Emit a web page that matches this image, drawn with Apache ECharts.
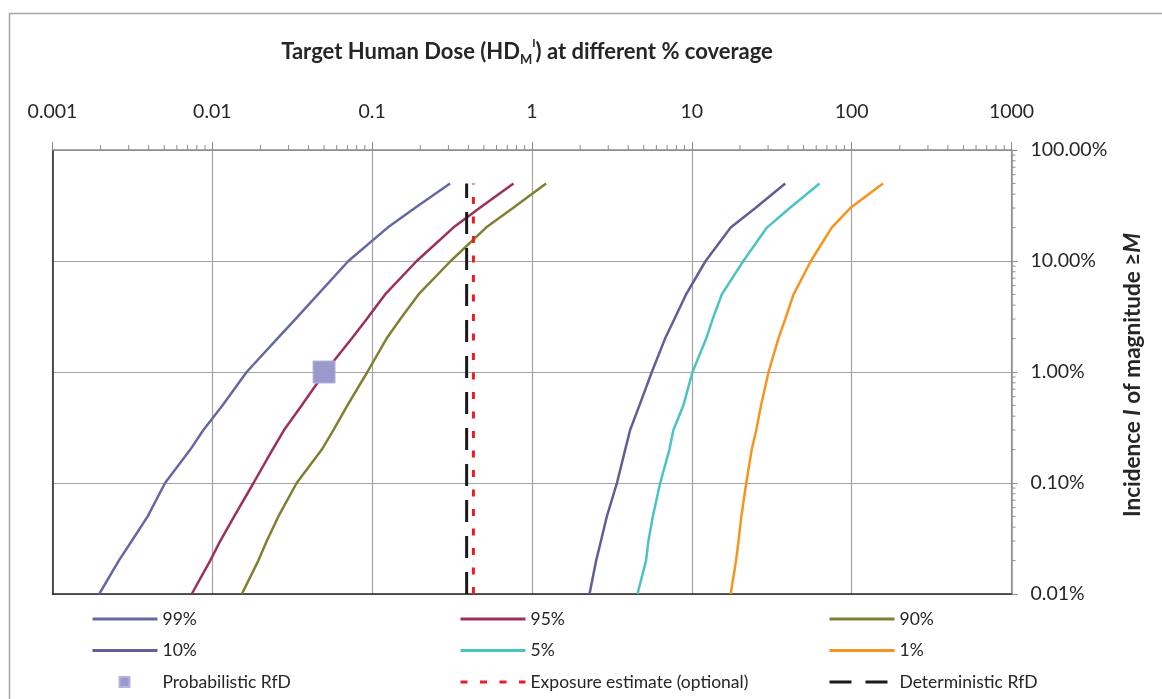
<!DOCTYPE html>
<html>
<head>
<meta charset="utf-8">
<title>Target Human Dose at different % coverage</title>
<script src="https://cdn.jsdelivr.net/npm/echarts@6/dist/echarts.min.js"></script>
<style>
  html, body { margin: 0; padding: 0; background: #ffffff; }
  #chart { width: 1162px; height: 699px; }
</style>
</head>
<body>
<div id="chart"></div>
<script>
// Incidence levels (%) shared by every coverage curve, bottom to top
const incidence = [0.01, 0.02, 0.03, 0.05, 0.1, 0.2, 0.3, 0.5, 1, 2, 3, 5, 10, 20, 30, 50];

// Target human dose (x) reached by each coverage curve at the incidence levels above
const dose99 = [0.00196, 0.0026, 0.00313, 0.00394, 0.00506, 0.00728, 0.00879, 0.01156, 0.0164, 0.0255, 0.0331, 0.0458, 0.071, 0.125, 0.185, 0.307];
const dose95 = [0.00743, 0.0097, 0.0112, 0.0137, 0.0181, 0.0238, 0.0281, 0.0362, 0.0507, 0.0745, 0.0925, 0.1205, 0.19, 0.322, 0.47, 0.766];
const dose90 = [0.0153, 0.0194, 0.0219, 0.0259, 0.0337, 0.0484, 0.0572, 0.070, 0.0933, 0.123, 0.15, 0.195, 0.31, 0.516, 0.76, 1.225];
const dose10 = [2.29, 2.52, 2.70, 2.94, 3.40, 3.83, 4.11, 4.70, 5.62, 6.8, 7.78, 9.2, 12.2, 17.5, 25, 38.4];
const dose5  = [4.57, 5.17, 5.35, 5.70, 6.34, 7.24, 7.67, 8.85, 10.1, 12.3, 13.5, 15.4, 21.0, 29.5, 41, 63];
const dose1  = [17.5, 18.9, 19.6, 20.4, 21.9, 23.7, 25.3, 27.1, 30.2, 34.8, 38.4, 43.3, 55.6, 75, 98, 157];

// Reference points and lines
const probabilisticRfD = [0.05, 1];       // [dose, incidence %]
const exposureEstimate = 0.43;            // dose
const deterministicRfD = 0.39;            // dose
const refLineSpan = [0.01, 50];           // incidence range covered by the vertical lines

// Axis ranges
const doseRange = [0.001, 1000];
const incidenceRange = [0.01, 100];

const FONT = 'Lato, "Open Sans", sans-serif';
const TEXT = '#262626';

const pair = (xs) => xs.map((x, i) => [x, incidence[i]]);
const vline = (x) => refLineSpan.map((y) => [x, y]);

// Minor tick values (2..9 in every decade) for the log axes
function decadeMinors(fromExp, toExp) {
  const out = [];
  for (let e = fromExp; e < toExp; e++) {
    for (let m = 2; m <= 9; m++) out.push(+(m * Math.pow(10, e)).toPrecision(6));
  }
  return out;
}
const doseMinors = decadeMinors(-3, 3);
const incidenceMinors = decadeMinors(-2, 2);

const curveStyle = (color) => ({ color: color, width: 2.5 });

// Legend columns: line samples only (the point marker is hidden), text right of the sample
const legendText = { fontFamily: FONT, fontSize: 17.5, color: TEXT, lineHeight: 20 };
const legendBase = {
  orient: 'vertical',
  top: 609,
  padding: 0,
  itemWidth: 65,
  itemHeight: 10,
  itemGap: 11.5,
  selectedMode: false,
  itemStyle: { opacity: 0 },
  lineStyle: { width: 3 },
  textStyle: legendText
};

const chart = echarts.init(document.getElementById('chart'), null, { renderer: 'canvas' });

chart.setOption({
  animation: false,
  backgroundColor: '#ffffff',
  title: {
    left: 527,
    top: 38,
    padding: 0,
    textAlign: 'center',
    text: '{m|Target Human Dose (HD}{sub|M}{sup|I}{m|) at different % coverage}',
    textStyle: {
      rich: {
        m:   { fontFamily: FONT, fontSize: 22, fontWeight: 'bold', color: TEXT, lineHeight: 28 },
        sub: { fontFamily: FONT, fontSize: 13, fontWeight: 'bold', color: TEXT, lineHeight: 14, verticalAlign: 'bottom' },
        sup: { fontFamily: FONT, fontSize: 11, fontWeight: 'bold', color: TEXT, lineHeight: 12, verticalAlign: 'top' }
      }
    }
  },
  graphic: [
    {
      type: 'rect',
      z: -10,
      silent: true,
      shape: { x: 9.5, y: 13.5, width: 1200, height: 800 },
      style: { fill: 'none', stroke: '#a6a6a6', lineWidth: 1.5 }
    },
    {
      type: 'text',
      x: 1133,
      y: 375,
      rotation: Math.PI / 2,
      silent: true,
      style: {
        text: '{b|Incidence }{i|I}{b| of magnitude \u2265}{i|M}',
        align: 'center',
        verticalAlign: 'middle',
        rich: {
          b: { fontFamily: FONT, fontSize: 22.5, fontWeight: 'bold', fill: TEXT },
          i: { fontFamily: FONT, fontSize: 22.5, fontWeight: 'bold', fontStyle: 'italic', fill: TEXT }
        }
      }
    }
  ],
  legend: [
    Object.assign({}, legendBase, { left: 91, data: ['99%', '10%'] }),
    Object.assign({}, legendBase, { left: 459, data: ['95%', '5%', 'Exposure estimate (optional)'] }),
    Object.assign({}, legendBase, { left: 828, data: ['90%', '1%', 'Deterministic RfD'] }),
    {
      orient: 'vertical',
      left: 118.5,
      top: 672,
      padding: 0,
      itemWidth: 10,
      itemHeight: 10,
      selectedMode: false,
      textStyle: Object.assign({}, legendText, { padding: [0, 0, 0, 28] }),
      data: ['Probabilistic RfD']
    }
  ],
  grid: { left: 52.5, right: 150.5, top: 150, bottom: 105, containLabel: false },
  xAxis: [
    {
      type: 'log',
      logBase: 10,
      position: 'top',
      min: doseRange[0],
      max: doseRange[1],
      axisLine: { show: true, lineStyle: { color: '#8c8c8c', width: 1.5 } },
      axisTick: { show: true, inside: false, length: 8, lineStyle: { color: '#8c8c8c', width: 1 } },
      axisLabel: {
        margin: 28,
        fontFamily: FONT,
        fontSize: 19.5,
        color: TEXT,
        formatter: (v) => String(+v.toPrecision(6))
      },
      splitLine: { show: true, lineStyle: { color: '#a3a3a3', width: 1.2 } }
    },
    {
      type: 'log',
      logBase: 10,
      position: 'bottom',
      min: doseRange[0],
      max: doseRange[1],
      axisLine: { show: true, lineStyle: { color: '#262626', width: 1.5 } },
      axisTick: { show: false },
      axisLabel: { show: false },
      splitLine: { show: false }
    }
  ],
  yAxis: [
    {
      type: 'log',
      logBase: 10,
      position: 'right',
      min: incidenceRange[0],
      max: incidenceRange[1],
      axisLine: { show: true, lineStyle: { color: '#8c8c8c', width: 1.5 } },
      axisTick: { show: true, inside: false, length: 6, lineStyle: { color: '#8c8c8c', width: 1 } },
      axisLabel: {
        margin: 19,
        fontFamily: FONT,
        fontSize: 19.5,
        color: TEXT,
        formatter: (v) => v.toFixed(2) + '%'
      },
      splitLine: { show: true, lineStyle: { color: '#a3a3a3', width: 1.2 } }
    },
    {
      type: 'log',
      logBase: 10,
      position: 'left',
      min: incidenceRange[0],
      max: incidenceRange[1],
      axisLine: { show: true, lineStyle: { color: '#262626', width: 1.5 } },
      axisTick: { show: false },
      axisLabel: { show: false },
      splitLine: { show: false }
    }
  ],
  series: [
    { name: '99%', type: 'line', symbol: 'none', data: pair(dose99), lineStyle: curveStyle('#6569a3'), itemStyle: { color: '#6569a3' } },
    { name: '95%', type: 'line', symbol: 'none', data: pair(dose95), lineStyle: curveStyle('#9d2f5f'), itemStyle: { color: '#9d2f5f' } },
    { name: '90%', type: 'line', symbol: 'none', data: pair(dose90), lineStyle: curveStyle('#7f8032'), itemStyle: { color: '#7f8032' } },
    { name: '10%', type: 'line', symbol: 'none', data: pair(dose10), lineStyle: curveStyle('#5f5e98'), itemStyle: { color: '#5f5e98' } },
    { name: '5%',  type: 'line', symbol: 'none', data: pair(dose5),  lineStyle: curveStyle('#4cc3c3'), itemStyle: { color: '#4cc3c3' } },
    { name: '1%',  type: 'line', symbol: 'none', data: pair(dose1),  lineStyle: curveStyle('#f7941e'), itemStyle: { color: '#f7941e' } },
    {
      name: 'Exposure estimate (optional)',
      type: 'line',
      symbol: 'none',
      z: 3,
      data: vline(exposureEstimate),
      lineStyle: { color: '#ed1c24', width: 3, type: [7, 12.5], cap: 'butt' },
      itemStyle: { color: '#ed1c24' }
    },
    {
      name: 'Deterministic RfD',
      type: 'line',
      symbol: 'none',
      z: 3,
      data: vline(deterministicRfD),
      lineStyle: { color: '#1a1a1a', width: 3, type: [22, 14], cap: 'butt' },
      itemStyle: { color: '#1a1a1a' }
    },
    {
      name: 'Probabilistic RfD',
      type: 'scatter',
      symbol: 'rect',
      symbolSize: 22,
      z: 4,
      data: [probabilisticRfD],
      itemStyle: { color: '#9999cc', borderColor: '#b3b3dd', borderWidth: 1, opacity: 1 }
    },
    {
      // minor ticks of the top dose axis
      type: 'custom',
      silent: true,
      xAxisIndex: 0,
      yAxisIndex: 0,
      clip: false,
      data: doseMinors.map((v) => [v, incidenceRange[1]]),
      renderItem: (params, api) => {
        const p = api.coord([api.value(0), api.value(1)]);
        return {
          type: 'line',
          shape: { x1: p[0], y1: p[1], x2: p[0], y2: p[1] - 5 },
          style: { stroke: '#8c8c8c', lineWidth: 1 }
        };
      }
    },
    {
      // minor ticks of the right incidence axis
      type: 'custom',
      silent: true,
      xAxisIndex: 0,
      yAxisIndex: 0,
      clip: false,
      data: incidenceMinors.map((v) => [doseRange[1], v]),
      renderItem: (params, api) => {
        const p = api.coord([api.value(0), api.value(1)]);
        return {
          type: 'line',
          shape: { x1: p[0], y1: p[1], x2: p[0] + 4, y2: p[1] },
          style: { stroke: '#8c8c8c', lineWidth: 1 }
        };
      }
    }
  ]
});
</script>
</body>
</html>
